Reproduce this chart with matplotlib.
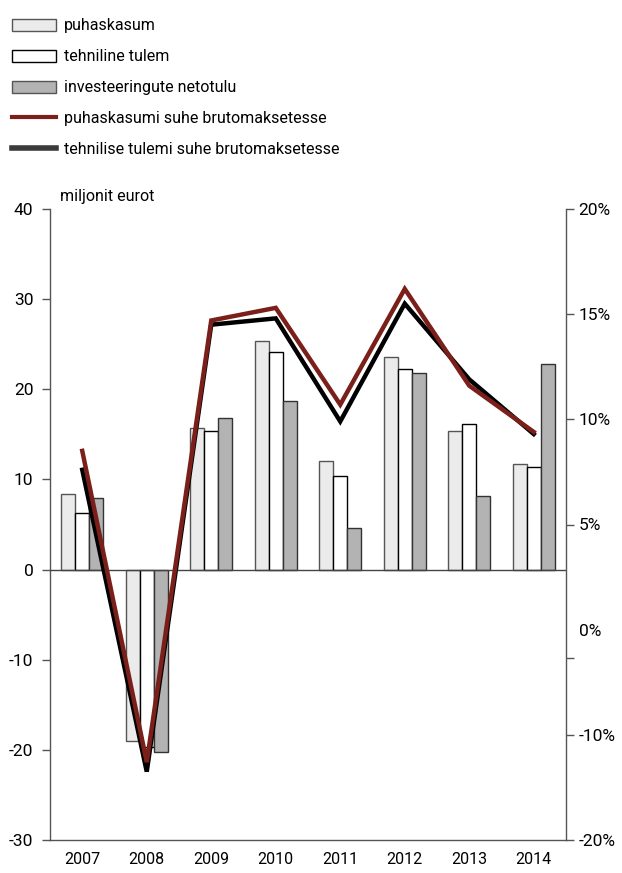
import numpy as np
import matplotlib
matplotlib.use("Agg")
import matplotlib.pyplot as plt
from matplotlib.patches import Patch
from matplotlib.lines import Line2D

plt.rcParams["font.family"] = ["Roboto", "DejaVu Sans"]
plt.rcParams["axes.unicode_minus"] = False

years = ["2007", "2008", "2009", "2010", "2011", "2012", "2013", "2014"]

# miljonit eurot
puhaskasum = [8.4, -19.0, 15.7, 25.4, 12.0, 23.6, 15.4, 11.7]
tehniline_tulem = [6.3, -19.7, 15.4, 24.1, 10.4, 22.2, 16.1, 11.4]
investeeringute_netotulu = [7.9, -20.2, 16.8, 18.7, 4.6, 21.8, 8.2, 22.8]

# % brutomaksetest
puhaskasum_pct = [8.5, -12.6, 14.7, 15.3, 10.7, 16.2, 11.6, 9.4]
tehniline_pct = [7.6, -13.5, 14.5, 14.8, 9.9, 15.5, 11.9, 9.3]

pct_ticks = [20, 15, 10, 5, 0, -10, -20]
pct_labels = ["20%", "15%", "10%", "5%", "0%", "-10%", "-20%"]

RED = "#7a1f1a"
DARK = "#3a3a3a"
SPINE = "#555555"
FS = 11.5

fig = plt.figure(figsize=(6.22, 8.73), dpi=100)
ax = fig.add_axes([50 / 622, 33 / 873, 516 / 622, 631 / 873])
ax2 = ax.twinx()

x = np.arange(len(years))
w = 0.215
ax.bar(x - w, puhaskasum, w, color="#ebebeb", edgecolor="#555555", lw=1, zorder=2)
ax.bar(x, tehniline_tulem, w, color="white", edgecolor="black", lw=1, zorder=2)
ax.bar(x + w, investeeringute_netotulu, w, color="#b3b3b3", edgecolor="#333333", lw=1, zorder=2)
ax.axhline(0, color="#444444", lw=1, zorder=3)

ax.set_xlim(-0.5, len(years) - 0.5)
ax.set_ylim(-30, 40)
ax.set_yticks(range(-30, 41, 10))
ax.set_xticks(x)
ax.set_xticklabels(years)
ax.tick_params(axis="x", length=0, pad=9, labelsize=FS)
ax.tick_params(axis="y", length=6, width=1, color=SPINE, labelsize=FS + 1, pad=6)

# right axis: 5% steps above zero, 10% steps below
fwd = lambda v: np.where(np.asarray(v) >= 0, v, np.asarray(v) / 2)
inv = lambda p: np.where(np.asarray(p) >= 0, p, np.asarray(p) * 2)
ax2.set_yscale("function", functions=(fwd, inv))
ax2.set_ylim(-20, 20)
ax2.set_yticks(pct_ticks)
ax2.set_yticklabels(pct_labels)
ax2.set_yticks([-2.7], minor=True)
ax2.tick_params(axis="y", which="both", length=6, width=1, color=SPINE, labelsize=FS + 1, pad=3)
ax2.yaxis.get_major_ticks()[4].tick2line.set_visible(False)

ax2.plot(x, tehniline_pct, color="black", lw=3.2, solid_joinstyle="miter", zorder=4)
ax2.plot(x, puhaskasum_pct, color=RED, lw=3.2, solid_joinstyle="miter", zorder=5)

for a in (ax, ax2):
    a.spines["top"].set_visible(False)
    for s in ("left", "right", "bottom"):
        a.spines[s].set_color(SPINE)
        a.spines[s].set_linewidth(1)
ax.spines["right"].set_visible(False)
ax2.spines["left"].set_visible(False)
ax2.spines["bottom"].set_visible(False)

fig.text(60 / 622, 1 - 196 / 873, "miljonit eurot", fontsize=FS, va="center", ha="left")

handles = [
    Patch(facecolor="#ebebeb", edgecolor="#555555", lw=1),
    Patch(facecolor="white", edgecolor="black", lw=1),
    Patch(facecolor="#b3b3b3", edgecolor="#555555", lw=1),
    Line2D([], [], color=RED, lw=3),
    Line2D([], [], color=DARK, lw=4),
]
labels = [
    "puhaskasum",
    "tehniline tulem",
    "investeeringute netotulu",
    "puhaskasumi suhe brutomaksetesse",
    "tehnilise tulemi suhe brutomaksetesse",
]
fig.legend(handles, labels, loc="upper left", bbox_to_anchor=(6 / 622, 1 - 12 / 873),
           frameon=False, fontsize=FS, handlelength=2.7, handleheight=0.8,
           handletextpad=0.55, labelspacing=1.0, borderaxespad=0)

fig.savefig("out.png", dpi=100)
